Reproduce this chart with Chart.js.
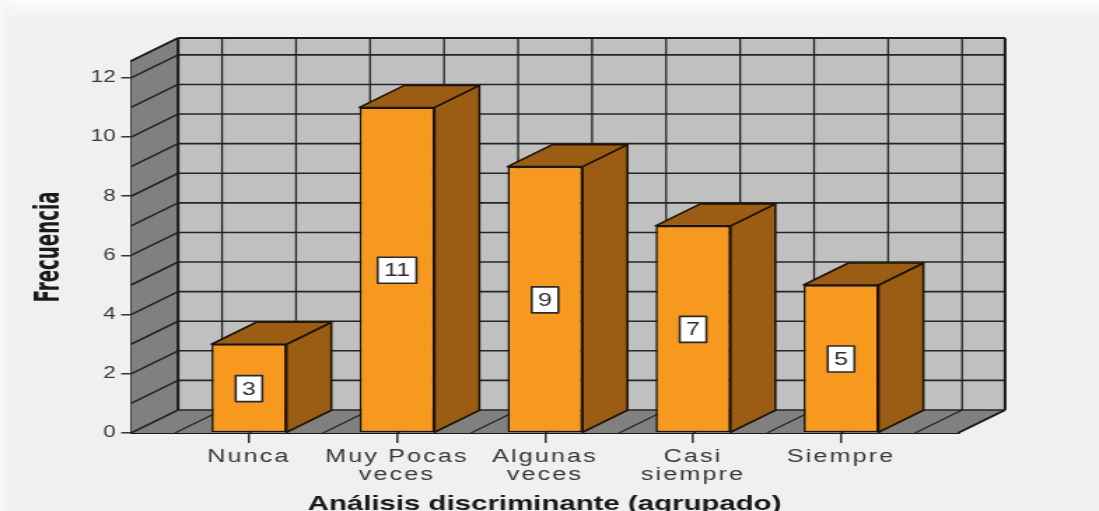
<!DOCTYPE html>
<html><head><meta charset="utf-8">
<script src="https://cdn.jsdelivr.net/npm/chart.js@4/dist/chart.umd.min.js"></script>
<style>
html,body{margin:0;padding:0;overflow:hidden;background:#f0f0f0;width:1099px;height:511px;}
#wrap{position:absolute;left:0;top:0;width:785px;height:520px;transform:scaleX(1.4);transform-origin:0 0;}
canvas{display:block;}
</style></head><body>
<div id="wrap"><canvas id="c" width="785" height="520"></canvas></div>
<script>
// ---- data ----
const categories = ['Nunca', 'Muy Pocas veces', 'Algunas veces', 'Casi siempre', 'Siempre'];
const tickLabels = [['Nunca'], ['Muy Pocas', 'veces'], ['Algunas', 'veces'], ['Casi', 'siempre'], ['Siempre']];
const frequencies = [3, 11, 9, 7, 5];
const yTicks = [0, 2, 4, 6, 8, 10, 12];
const yTitle = 'Frecuencia';
const xTitle = 'Análisis discriminante (agrupado)';

// ---- style ----
const WALL_DX = 33.6, WALL_DY = -23;
const BAR_DX = 32, BAR_DY = -22;
const FRONT = '#f8991f', SIDE = '#9b5c13', EDGE = '#1e1408';

function poly(ctx, pts) {
  ctx.beginPath();
  ctx.moveTo(pts[0][0], pts[0][1]);
  for (let i = 1; i < pts.length; i++) ctx.lineTo(pts[i][0], pts[i][1]);
  ctx.closePath();
}
function line(ctx, x1, y1, x2, y2) {
  ctx.beginPath(); ctx.moveTo(x1, y1); ctx.lineTo(x2, y2); ctx.stroke();
}

const bgPlugin = {
  id: 'bg',
  beforeDraw(chart) {
    const ctx = chart.ctx, W = chart.width, H = chart.height;
    ctx.save();
    ctx.fillStyle = '#f0f0f0';
    ctx.fillRect(0, 0, W, H);
    let g = ctx.createLinearGradient(0, 0, 0, 30);
    g.addColorStop(0, '#fdfdfd'); g.addColorStop(1, 'rgba(240,240,240,0)');
    ctx.fillStyle = g; ctx.fillRect(0, 0, W, 30);
    g = ctx.createLinearGradient(0, 0, 10, 0);
    g.addColorStop(0, '#fafafa'); g.addColorStop(1, 'rgba(240,240,240,0)');
    ctx.fillStyle = g; ctx.fillRect(0, 0, 10, H);
    ctx.restore();
  }
};

const wallsPlugin = {
  id: 'walls',
  beforeDatasetsDraw(chart) {
    const {ctx, chartArea: {left, right, top, bottom}, scales: {x, y}} = chart;
    const dx = WALL_DX, dy = WALL_DY;
    ctx.save();
    ctx.fillStyle = '#c0c0c0';
    ctx.fillRect(left + dx, top + dy, right - left, bottom - top);
    ctx.fillStyle = '#808080';
    poly(ctx, [[left, top], [left + dx, top + dy], [left + dx, bottom + dy], [left, bottom]]);
    ctx.fill();
    poly(ctx, [[left, bottom], [left + dx, bottom + dy], [right + dx, bottom + dy], [right, bottom]]);
    ctx.fill();
    ctx.strokeStyle = '#242424';
    ctx.lineWidth = 1.6;
    for (let v = 0; v <= Math.floor(y.max); v++) {
      const py = y.getPixelForValue(v);
      line(ctx, left + dx, py + dy, right + dx, py + dy);
      line(ctx, left, py, left + dx, py + dy);
    }
    ctx.lineWidth = 1.3;
    for (let v = -0.5; v <= 4.5; v += 0.5) {
      const px = x.getPixelForValue(v);
      line(ctx, px + dx, top + dy, px + dx, bottom + dy);
      line(ctx, px, bottom, px + dx, bottom + dy);
    }
    ctx.lineWidth = 2;
    ctx.strokeStyle = '#1a1a1a';
    line(ctx, left, top, left + dx, top + dy);
    line(ctx, left + dx, top + dy, right + dx, top + dy);
    line(ctx, right + dx, top + dy, right + dx, bottom + dy);
    line(ctx, right + dx, bottom + dy, right, bottom);
    line(ctx, left + dx, top + dy, left + dx, bottom + dy);
    ctx.restore();
  },
  afterDatasetsDraw(chart) {
    const {ctx, scales: {y}} = chart;
    const meta = chart.getDatasetMeta(0);
    const ds = chart.data.datasets[0].data;
    ctx.save();
    ctx.lineJoin = 'round';
    meta.data.forEach((bar) => {
      const {x: cx, y: ty, base, width} = bar.getProps(['x', 'y', 'base', 'width'], true);
      const l = cx - width / 2, r = cx + width / 2;
      ctx.fillStyle = SIDE;
      ctx.strokeStyle = EDGE;
      ctx.lineWidth = 1.6;
      poly(ctx, [[r, ty], [r + BAR_DX, ty + BAR_DY], [r + BAR_DX, base + BAR_DY], [r, base]]);
      ctx.fill(); ctx.stroke();
      poly(ctx, [[l, ty], [l + BAR_DX, ty + BAR_DY], [r + BAR_DX, ty + BAR_DY], [r, ty]]);
      ctx.fill(); ctx.stroke();
    });
    ctx.font = '18px "Liberation Sans", Arial, sans-serif';
    ctx.textAlign = 'center';
    ctx.textBaseline = 'middle';
    meta.data.forEach((bar, i) => {
      const v = ds[i].y;
      const cx = bar.x, cy = y.getPixelForValue(v / 2);
      const txt = String(v);
      const w = ctx.measureText(txt).width + 9, h = 26;
      ctx.fillStyle = '#ffffff';
      ctx.fillRect(cx - w / 2, cy - h / 2, w, h);
      ctx.strokeStyle = '#2a2a2a';
      ctx.lineWidth = 1.6;
      ctx.strokeRect(cx - w / 2, cy - h / 2, w, h);
      ctx.fillStyle = '#2e2e2e';
      ctx.fillText(txt, cx, cy + 1);
    });
    ctx.restore();
  }
};

const patchPlugin = {
  id: 'patch',
  afterLayout(chart) {
    const xs = chart.scales.x;
    if (xs && !xs._spacedPatch) {
      const orig = xs.drawLabels.bind(xs);
      xs.drawLabels = function (area) {
        const c = this.ctx;
        c.save();
        c.letterSpacing = '1.5px';
        orig(area);
        c.restore();
      };
      xs._spacedPatch = true;
    }
    const ys = chart.scales.y;
    if (ys && !ys._titlePatch) {
      const origT = ys.drawTitle.bind(ys);
      ys.drawTitle = function () {
        const c = this.ctx;
        const cy = (this.top + this.bottom) / 2;
        c.save();
        c.translate(0, cy);
        c.scale(1, 0.81);
        c.translate(0, -cy);
        origT();
        c.restore();
      };
      ys._titlePatch = true;
    }
  }
};

new Chart(document.getElementById('c'), {
  type: 'bar',
  data: {
    labels: categories,
    datasets: [{
      label: yTitle,
      data: frequencies.map((v, i) => ({x: i, y: v})),
      backgroundColor: FRONT,
      borderColor: EDGE,
      borderWidth: 1.6,
      borderSkipped: false,
      barPercentage: 0.507,
      categoryPercentage: 1
    }]
  },
  options: {
    responsive: false,
    animation: false,
    events: [],
    layout: {padding: {left: 0, right: 100.7, top: 61, bottom: 0}},
    plugins: {legend: {display: false}, tooltip: {enabled: false}},
    scales: {
      x: {
        type: 'linear',
        offset: false,
        min: -0.797,
        max: 4.79,
        afterBuildTicks: (s) => { s.ticks = categories.map((c, i) => ({value: i})); },
        afterFit: (s) => { s.height = 87; },
        grid: {offset: false, drawOnChartArea: false, drawTicks: true, tickLength: 10, tickColor: '#333', lineWidth: 1.5},
        border: {display: true, color: '#1a1a1a', width: 2},
        ticks: {
          autoSkip: false, maxRotation: 0, padding: 5, color: '#383838',
          font: {family: '"Liberation Sans", Arial, sans-serif', size: 18, lineHeight: 1.0},
          callback: (v) => tickLabels[v]
        },
        title: {
          display: true, text: xTitle, color: '#1a1a1a',
          font: {family: '"Liberation Sans", Arial, sans-serif', size: 21, weight: 'bold'},
          padding: {top: 0, bottom: 2.7}
        }
      },
      y: {
        min: 0,
        max: 12.57,
        afterBuildTicks: (s) => { s.ticks = yTicks.map(v => ({value: v})); },
        afterFit: (s) => { s.width = 93.6; },
        grid: {drawOnChartArea: false, drawTicks: true, tickLength: 7, tickColor: '#333', lineWidth: 1.5},
        border: {display: true, color: '#1a1a1a', width: 2},
        ticks: {
          padding: 4, color: '#383838',
          font: {family: '"Liberation Sans", Arial, sans-serif', size: 16}
        },
        title: {
          display: true, text: yTitle, color: '#1a1a1a',
          font: {family: '"Liberation Sans Narrow", "Arial Narrow", "DejaVu Sans Condensed", sans-serif', size: 25, weight: 'bold', lineHeight: 1.2},
          padding: {top: 20.4, bottom: 0}
        }
      }
    }
  },
  plugins: [bgPlugin, wallsPlugin, patchPlugin]
});
</script>
</body></html>
